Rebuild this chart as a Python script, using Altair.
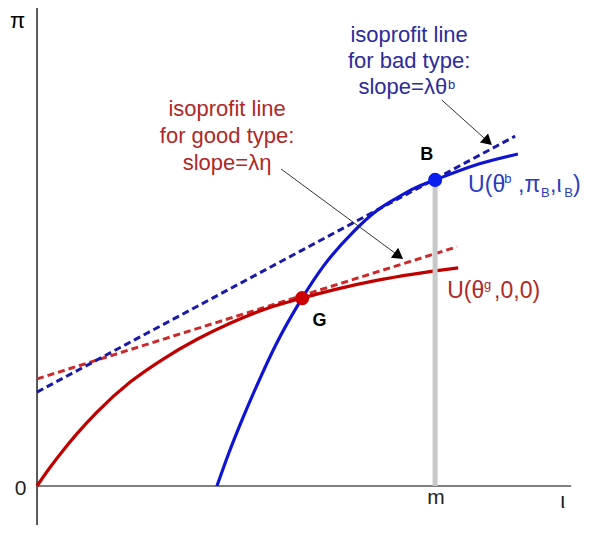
import altair as alt
import pandas as pd

# ---- data (m normalised to 1) ----
red_x = [0.0, 0.033, 0.066, 0.1, 0.15, 0.234, 0.317, 0.401, 0.485, 0.569, 0.666, 0.75, 0.85, 0.95, 1.058]
red_y = [0.0, 0.047, 0.090, 0.131, 0.185, 0.261, 0.319, 0.368, 0.409, 0.443, 0.472, 0.494, 0.516, 0.533, 0.548]

blue_x = [0.452, 0.48, 0.52, 0.56, 0.6, 0.666, 0.72, 0.794, 0.85, 0.9045, 0.95, 1.0, 1.1, 1.208]
blue_y = [0.0, 0.078, 0.178, 0.270, 0.355, 0.472, 0.553, 0.638, 0.689, 0.724, 0.749, 0.769, 0.806, 0.834]

red_dash_x = [0.0, 1.055]
red_dash_y = [0.269, 0.601]
blue_dash_x = [0.0, 1.201]
blue_dash_y = [0.236, 0.879]

G_pt = [0.666, 0.472]
B_pt = [1.0, 0.769]
m_val = 1.0

# arrows: start x, start y, head-centre x, head-centre y, angle (deg)
red_arrow = [0.613, 0.7965, 0.9088, 0.5781, 36.4]
blue_arrow = [1.0168, 0.9698, 1.1327, 0.8656, 42.0]

XMIN, XMAX = -0.0729, 1.369
YMIN, YMAX = -0.098, 1.201

FONT = "Liberation Sans"

X = alt.X("x:Q", scale=alt.Scale(domain=[XMIN, XMAX], nice=False, zero=False), axis=None)
Y = alt.Y("y:Q", scale=alt.Scale(domain=[YMIN, YMAX], nice=False, zero=False), axis=None)


def line(xs, ys, **kw):
    df = pd.DataFrame({"x": xs, "y": ys, "i": list(range(len(xs)))})
    return alt.Chart(df).mark_line(**kw).encode(x=X, y=Y, order="i:Q")


def rule(x, y, x2, y2, **kw):
    df = pd.DataFrame({"x": [x], "y": [y], "x2": [x2], "y2": [y2]})
    return alt.Chart(df).mark_rule(**kw).encode(x=X, y=Y, x2="x2:Q", y2="y2:Q")


def text(items, **kw):
    df = pd.DataFrame(items, columns=["x", "y", "t"])
    return alt.Chart(df).mark_text(font=FONT, **kw).encode(x=X, y=Y, text="t:N")


def point(xs, ys, **kw):
    df = pd.DataFrame({"x": xs, "y": ys})
    return alt.Chart(df).mark_point(**kw).encode(x=X, y=Y)


RED = "#c00000"
BLUE = "#0f14d2"
RED_TXT = "#b02828"
BLUE_TXT = "#2c2c9c"
U_BLUE = "#2a3cc0"

layers = [
    # axes
    rule(0.0, YMIN, 0.0, YMAX, color="black", strokeWidth=1.3),
    rule(0.0, 0.0, 1.3417, 0.0, color="#808080", strokeWidth=2),
    # tangent (isoprofit) lines
    line(red_dash_x, red_dash_y, color="#cc2a2a", strokeWidth=3, strokeDash=[7, 4]),
    line(blue_dash_x, blue_dash_y, color="#1a1aa8", strokeWidth=3, strokeDash=[7, 4]),
    # indifference curves
    line(red_x, red_y, color=RED, strokeWidth=3.2, interpolate="monotone"),
    line(blue_x, blue_y, color=BLUE, strokeWidth=3.2, interpolate="monotone"),
    # m line
    rule(m_val, 0.0, m_val, B_pt[1], color="#c8c8c8", strokeWidth=5),
    # points
    point([G_pt[0]], [G_pt[1]], filled=True, size=200, color="#cc0000", opacity=1),
    point([B_pt[0]], [B_pt[1]], filled=True, size=200, color="#0a1eee", opacity=1),
    # arrows
    rule(red_arrow[0], red_arrow[1], red_arrow[2], red_arrow[3], color="#333333", strokeWidth=1),
    point([red_arrow[2]], [red_arrow[3]], shape="triangle-right", filled=True, size=150,
          angle=red_arrow[4], color="black", opacity=1),
    rule(blue_arrow[0], blue_arrow[1], blue_arrow[2], blue_arrow[3], color="#333333", strokeWidth=1),
    point([blue_arrow[2]], [blue_arrow[3]], shape="triangle-right", filled=True, size=150,
          angle=blue_arrow[4], color="black", opacity=1),
    # axis labels
    text([[-0.049, 1.1508, "π"]], fontSize=22, align="center", baseline="alphabetic", color="black"),
    text([[-0.0415, -0.0226, "0"]], fontSize=21, align="center", baseline="alphabetic", color="#222222"),
    text([[1.0025, -0.0452, "m"]], fontSize=21, align="center", baseline="alphabetic", color="#222222"),
    text([[1.3204, -0.0553, "ι"]], fontSize=22, align="center", baseline="alphabetic", color="#222222"),
    # point labels
    text([[0.9787, 0.8191, "B"], [0.7098, 0.402, "G"]], fontSize=18, fontWeight="bold",
         align="center", baseline="alphabetic", color="black"),
    # isoprofit labels
    text([[0.4774, 0.9284, "isoprofit line"],
          [0.4774, 0.8618, "for good type:"],
          [0.4774, 0.7952, "slope=λη"]],
         fontSize=22, align="center", baseline="alphabetic", color=RED_TXT),
    text([[0.9347, 1.1156, "isoprofit line"],
          [0.9347, 1.0503, "for bad type:"]],
         fontSize=22, align="center", baseline="alphabetic", color=BLUE_TXT),
    text([[1.0302, 0.9849, "slope=λθ"]], fontSize=22, align="right", baseline="alphabetic", color=BLUE_TXT),
    text([[1.0327, 0.9975, "b"]], fontSize=13, align="left", baseline="alphabetic", color=BLUE_TXT),
    # U(θb, πB, ιB)
    text([[1.0829, 0.7387, "U(θ"], [1.2085, 0.7387, ",π"], [1.2889, 0.7387, ",ι"], [1.3467, 0.7387, ")"]],
         fontSize=23, align="left", baseline="alphabetic", color=U_BLUE),
    text([[1.1734, 0.7613, "b"]], fontSize=13, align="left", baseline="alphabetic", color=U_BLUE),
    text([[1.2663, 0.7261, "B"], [1.3241, 0.7261, "B"]], fontSize=13, align="left",
         baseline="alphabetic", color=U_BLUE),
    # U(θg,0,0)
    text([[1.0302, 0.4724, "U(θ"], [1.1482, 0.4724, ",0,0)"]], fontSize=23, align="left",
         baseline="alphabetic", color=RED_TXT),
    text([[1.1231, 0.4950, "g"]], fontSize=13, align="left", baseline="alphabetic", color=RED_TXT),
]

chart = alt.layer(*layers).properties(
    width=574, height=517, padding=0,
    autosize=alt.AutoSizeParams(type="none"),
).configure_view(stroke=None)

chart.save("out.html", embed_options={"renderer": "svg", "actions": False})
